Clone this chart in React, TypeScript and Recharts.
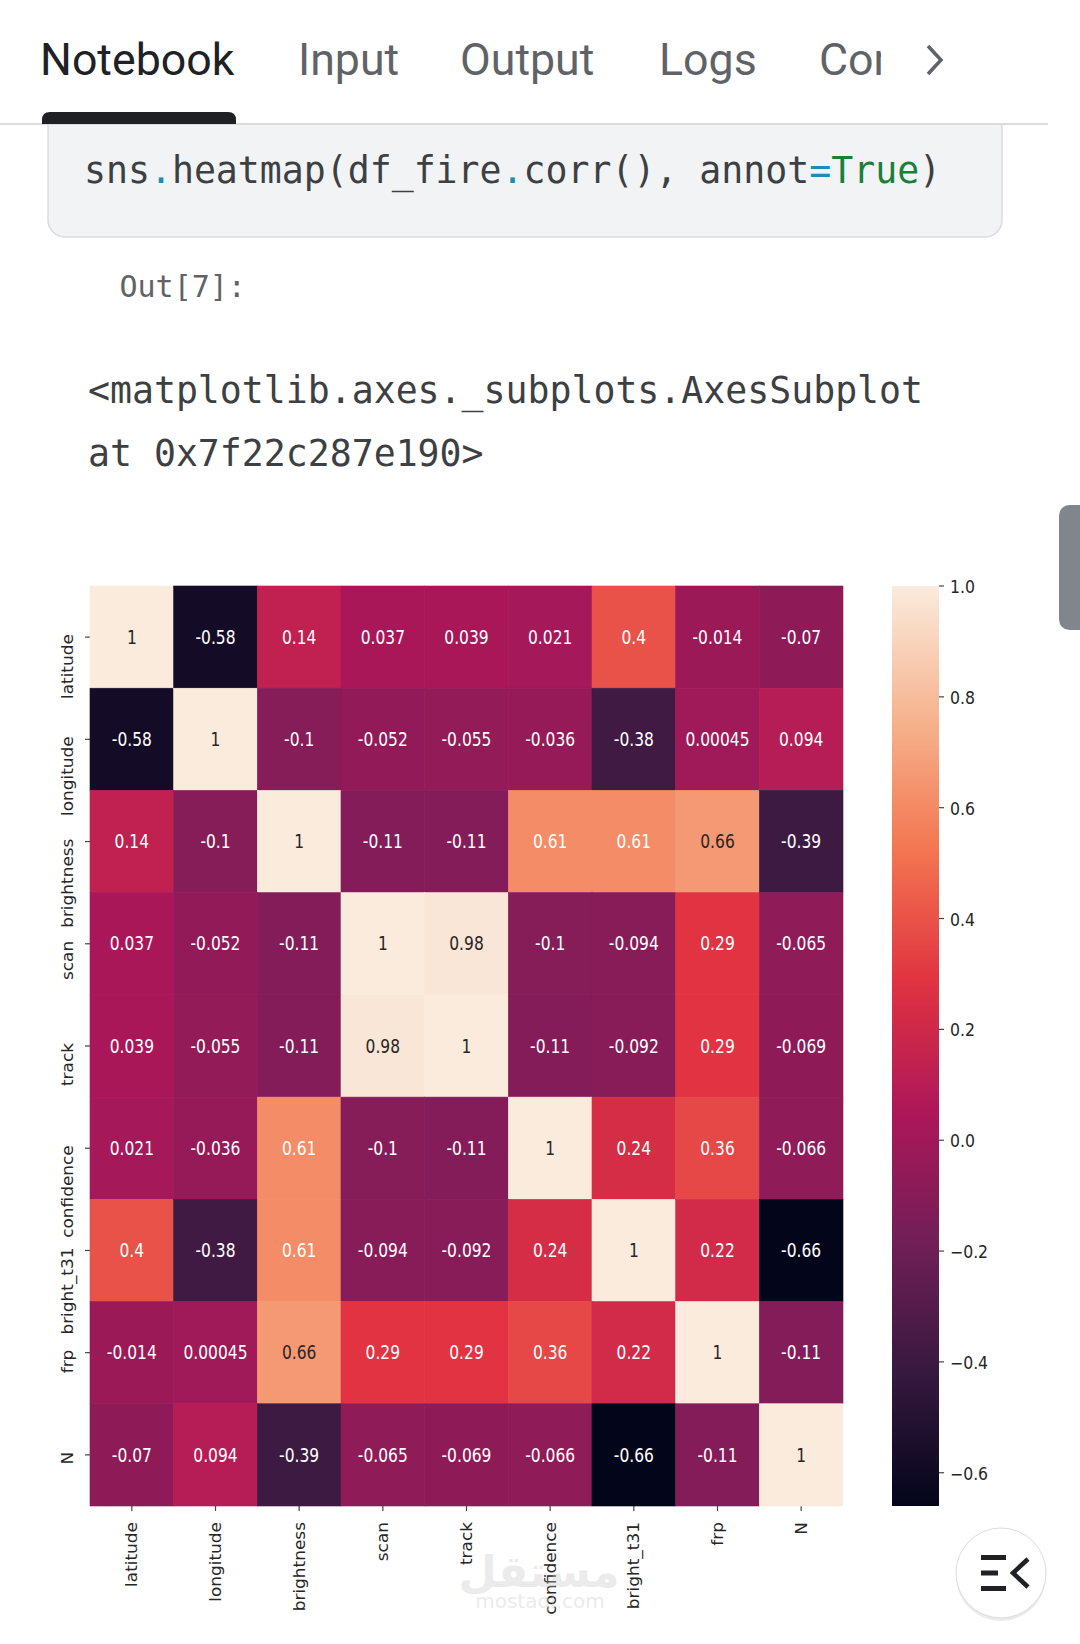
import React from "react";
import { ScatterChart, Scatter, XAxis, YAxis, BarChart, Bar } from "recharts";

// correlation matrix of df_fire, one array per row
const columns = ["latitude", "longitude", "brightness", "scan", "track", "confidence", "bright_t31", "frp", "N"];
const latitude = [1, -0.58, 0.14, 0.037, 0.039, 0.021, 0.4, -0.014, -0.07];
const longitude = [-0.58, 1, -0.1, -0.052, -0.055, -0.036, -0.38, 0.00045, 0.094];
const brightness = [0.14, -0.1, 1, -0.11, -0.11, 0.61, 0.61, 0.66, -0.39];
const scan = [0.037, -0.052, -0.11, 1, 0.98, -0.1, -0.094, 0.29, -0.065];
const track = [0.039, -0.055, -0.11, 0.98, 1, -0.11, -0.092, 0.29, -0.069];
const confidence = [0.021, -0.036, 0.61, -0.1, -0.11, 1, 0.24, 0.36, -0.066];
const bright_t31 = [0.4, -0.38, 0.61, -0.094, -0.092, 0.24, 1, 0.22, -0.66];
const frp = [-0.014, 0.00045, 0.66, 0.29, 0.29, 0.36, 0.22, 1, -0.11];
const N = [-0.07, 0.094, -0.39, -0.065, -0.069, -0.066, -0.66, -0.11, 1];
const matrix = [latitude, longitude, brightness, scan, track, confidence, bright_t31, frp, N];

const colorbarTicks = [-0.6, -0.4, -0.2, 0, 0.2, 0.4, 0.6, 0.8, 1.0];

// seaborn "rocket" colormap anchors
const rocketStops: [number, string][] = [
  [0, "#03051a"],
  [1 / 7, "#35193e"],
  [2 / 7, "#701f57"],
  [3 / 7, "#ad1759"],
  [4 / 7, "#e13342"],
  [5 / 7, "#f37651"],
  [6 / 7, "#f6b48f"],
  [1, "#faebdd"],
];

const VMIN = Math.min(...matrix.flat());
const VMAX = Math.max(...matrix.flat());

const cells = matrix.flatMap((r, i) => r.map((v, j) => ({ row: columns[i], col: columns[j], v })));
const colorbarData = [{ name: "cbar", span: [VMIN, VMAX] }];

const CELL_W = 753 / 9;
const CELL_H = 920 / 9;
const FONT = "'DejaVu Sans', sans-serif";
const MONO = "'DejaVu Sans Mono', monospace";

const hex = (h: string) => [1, 3, 5].map((k) => parseInt(h.slice(k, k + 2), 16));

function rocket(t: number) {
  const c = Math.max(0, Math.min(1, t));
  for (let k = 1; k < rocketStops.length; k++) {
    const [t1, h1] = rocketStops[k];
    if (c <= t1) {
      const [t0, h0] = rocketStops[k - 1];
      const f = (c - t0) / (t1 - t0);
      const a = hex(h0);
      const b = hex(h1);
      return a.map((x, n) => Math.round(x + (b[n] - x) * f));
    }
  }
  return hex(rocketStops[rocketStops.length - 1][1]);
}

function luminance(rgb: number[]) {
  const lin = rgb.map((c) => {
    const s = c / 255;
    return s <= 0.03928 ? s / 12.92 : Math.pow((s + 0.055) / 1.055, 2.4);
  });
  return 0.2126 * lin[0] + 0.7152 * lin[1] + 0.0722 * lin[2];
}

const fmt = (v: number) => String(Number(v.toPrecision(2)));

const HeatCell = (props: any) => {
  const { cx, cy, payload } = props;
  const rgb = rocket((payload.v - VMIN) / (VMAX - VMIN));
  const fill = `rgb(${rgb.join(",")})`;
  const txt = luminance(rgb) > 0.408 ? "#262626" : "#ffffff";
  return (
    <g>
      <rect x={cx - CELL_W / 2} y={cy - CELL_H / 2} width={CELL_W} height={CELL_H} fill={fill} stroke={fill} strokeWidth={0.6} />
      <g transform={`translate(${cx},${cy}) scale(1,1.2)`}>
        <text textAnchor="middle" dy="0.36em" fontSize={15.5} fontFamily={FONT} fill={txt}>
          {fmt(payload.v)}
        </text>
      </g>
    </g>
  );
};

const XTick = (props: any) => {
  const { x, y, payload } = props;
  return (
    <g transform={`translate(${x},${y}) scale(1,1.1) rotate(-90)`}>
      <text textAnchor="end" dy="0.36em" fontSize={15.4} fontFamily={FONT} fill="#262626">
        {payload.value}
      </text>
    </g>
  );
};

const YTick = (props: any) => {
  const { x, y, payload } = props;
  return (
    <g transform={`translate(${x},${y - 3}) scale(1,1.1) rotate(-90)`}>
      <text textAnchor="end" fontSize={15.4} fontFamily={FONT} fill="#262626">
        {payload.value}
      </text>
    </g>
  );
};

const CbTick = (props: any) => {
  const { x, y, payload } = props;
  const v = payload.value as number;
  const label = v < -1e-9 ? "\u2212" + Math.abs(v).toFixed(1) : Math.abs(v).toFixed(1);
  return (
    <g transform={`translate(${x},${y + 1}) scale(1,1.08)`}>
      <text textAnchor="start" dy="0.36em" fontSize={15.7} fontFamily={FONT} fill="#262626">
        {label}
      </text>
    </g>
  );
};

function Heatmap() {
  return (
    <div style={{ position: "absolute", left: 0, top: 560 }}>
      <ScatterChart width={880} height={1084} margin={{ top: 26, right: 37, bottom: 18, left: 10 }}>
        <XAxis
          type="category"
          dataKey="col"
          allowDuplicatedCategory={false}
          interval={0}
          height={120}
          axisLine={false}
          tickSize={5}
          tickMargin={11}
          tickLine={{ stroke: "#444", strokeWidth: 1.2 }}
          tick={<XTick />}
        />
        <YAxis
          type="category"
          dataKey="row"
          allowDuplicatedCategory={false}
          reversed
          interval={0}
          width={80}
          axisLine={false}
          tickSize={5}
          tickMargin={12}
          tickLine={{ stroke: "#444", strokeWidth: 1.2 }}
          tick={<YTick />}
        />
        <Scatter data={cells} shape={HeatCell} isAnimationActive={false} />
      </ScatterChart>
    </div>
  );
}

function Colorbar() {
  return (
    <div style={{ position: "absolute", left: 850, top: 560 }}>
      <BarChart width={230} height={1084} data={colorbarData} margin={{ top: 26, right: 0, bottom: 138, left: 42 }} barCategoryGap={0}>
        <defs>
          <linearGradient id="rocketGrad" x1="0" y1="1" x2="0" y2="0">
            {rocketStops.map(([t, c]) => (
              <stop key={t} offset={t} stopColor={c} />
            ))}
          </linearGradient>
        </defs>
        <XAxis dataKey="name" hide />
        <YAxis
          orientation="right"
          type="number"
          domain={[VMIN, VMAX]}
          ticks={colorbarTicks}
          allowDataOverflow
          width={141}
          axisLine={false}
          tickSize={5}
          tickMargin={6}
          tickLine={{ stroke: "#444", strokeWidth: 1.2 }}
          tick={<CbTick />}
        />
        <Bar dataKey="span" fill="url(#rocketGrad)" isAnimationActive={false} />
      </BarChart>
    </div>
  );
}

const codeParts: [string, string][] = [
  ["sns", "#3c4043"],
  [".", "#1a8fb5"],
  ["heatmap(df_fire", "#3c4043"],
  [".", "#1a8fb5"],
  ["corr(), annot", "#3c4043"],
  ["=", "#1a8fb5"],
  ["True", "#188038"],
  [")", "#3c4043"],
];

const tabs: [string, number, string][] = [
  ["Notebook", 40, "#202124"],
  ["Input", 298, "#5f6368"],
  ["Output", 460, "#5f6368"],
  ["Logs", 659, "#5f6368"],
  ["Comments", 819, "#5f6368"],
];

function Chrome() {
  return (
    <svg width={1080} height={1644} style={{ position: "absolute", left: 0, top: 0 }}>
      <defs>
        <clipPath id="tabClip">
          <rect x={0} y={0} width={881} height={123} />
        </clipPath>
      </defs>
      <rect x={48} y={40} width={954} height={197} rx={17} fill="#f1f3f4" stroke="#dadce0" strokeWidth={1.5} />
      <text x={84} y={183.3} fontFamily={MONO} fontSize={36.5} xmlSpace="preserve">
        {codeParts.map(([s, c], k) => (
          <tspan key={k} fill={c}>
            {s}
          </tspan>
        ))}
      </text>
      <rect x={0} y={0} width={1080} height={123} fill="#ffffff" />
      <rect x={0} y={123} width={1048} height={2} fill="#dadce0" />
      <path d="M42 124 V120 Q42 112 50 112 H228 Q236 112 236 120 V124 Z" fill="#202124" />
      <g clipPath="url(#tabClip)">
        {tabs.map(([t, x, c]) => (
          <text key={t} x={x} y={75} fontFamily="Roboto, sans-serif" fontSize={44.7} fill={c}>
            {t}
          </text>
        ))}
      </g>
      <path d="M928 46 L941 60 L928 74" fill="none" stroke="#5f6368" strokeWidth={3.5} />
      <text x={119.5} y={296.7} fontFamily={MONO} fontSize={30} fill="#5f6368">
        Out[7]:
      </text>
      <text x={88} y={402.5} fontFamily={MONO} fontSize={36.5} fill="#3c4043">
        {"<matplotlib.axes._subplots.AxesSubplot"}
      </text>
      <text x={88} y={465.5} fontFamily={MONO} fontSize={36.5} fill="#3c4043">
        {"at 0x7f22c287e190>"}
      </text>
      <rect x={1059} y={505} width={30} height={125} rx={10.5} fill="#80868b" />
    </svg>
  );
}

function Overlay() {
  return (
    <svg width={1080} height={1644} style={{ position: "absolute", left: 0, top: 0, pointerEvents: "none" }}>
      <g opacity={0.35}>
        <text x={539} y={1587} textAnchor="middle" fontFamily={FONT} fontWeight="bold" fontSize={44} fill="#c8c8c8">
          مستقل
        </text>
        <text x={540} y={1608} textAnchor="middle" fontFamily={FONT} fontSize={20} fill="#c8c8c8">
          mostaql.com
        </text>
      </g>
      <circle cx={1001} cy={1576} r={45} fill="#000" opacity={0.08} />
      <circle cx={1001} cy={1573} r={45} fill="#ffffff" stroke="#dcdcdc" strokeWidth={1} />
      <rect x={981} y={1555} width={25} height={5} fill="#202124" />
      <rect x={981} y={1570.5} width={17} height={5} fill="#202124" />
      <rect x={981} y={1586} width={25} height={5} fill="#202124" />
      <path d="M1028 1559 L1013 1573 L1028 1587" fill="none" stroke="#202124" strokeWidth={4.5} />
    </svg>
  );
}

export default function App() {
  return (
    <div style={{ position: "absolute", left: 0, top: 0, width: 1080, height: 1644, background: "#ffffff", overflow: "hidden" }}>
      <Chrome />
      <Heatmap />
      <Colorbar />
      <Overlay />
    </div>
  );
}
